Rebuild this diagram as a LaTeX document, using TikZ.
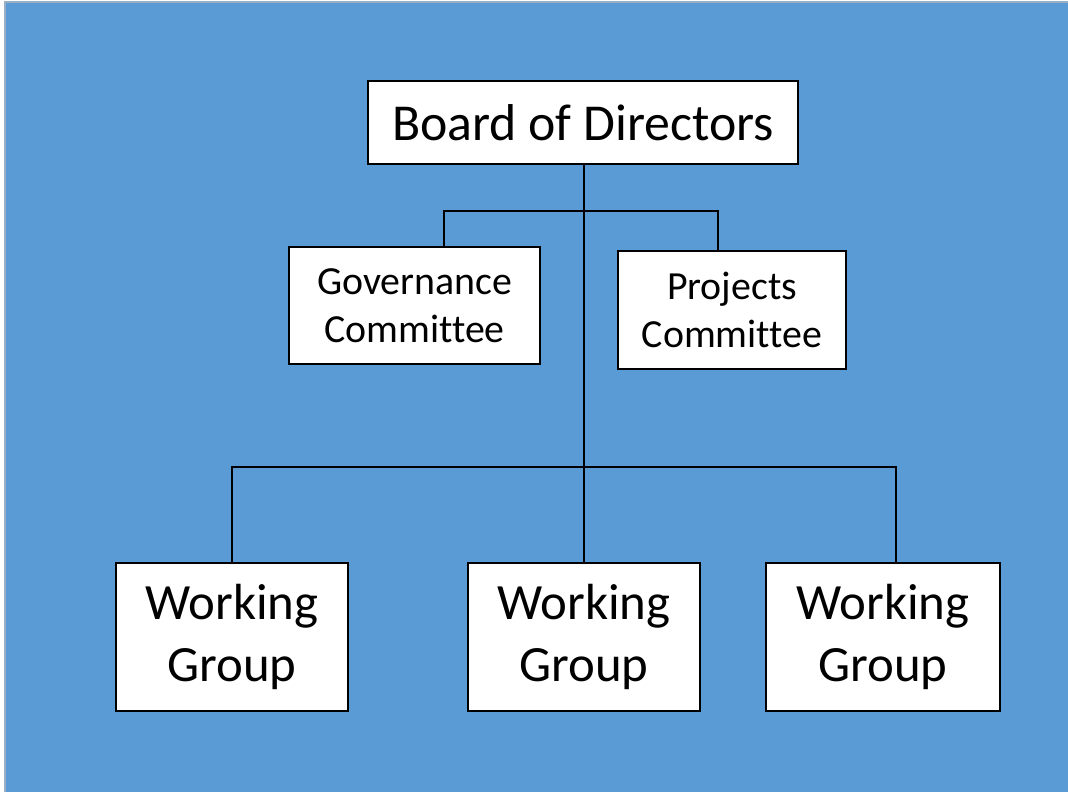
\documentclass[tikz,border=0pt]{standalone}
\usepackage{fontspec}
\setmainfont{Carlito}[RawFeature=-liga]
\definecolor{slideblue}{HTML}{5B9BD5}
\definecolor{frameedge}{HTML}{9AAFC4}
\begin{document}
\begin{tikzpicture}[x=1bp,y=-1bp,
  box/.style={draw=black,line width=1.6bp,fill=white,inner sep=0pt,align=center},
  link/.style={draw=black,line width=1.6bp},
  big/.style={font=\fontsize{51}{62}\selectfont},
  small/.style={font=\fontsize{40}{48}\selectfont}]
\useasboundingbox (0,0) rectangle (1068,792);
% slide background
\fill[white] (0,0) rectangle (1068,792);
\fill[slideblue] (5,2) rectangle (1068,792);
\draw[frameedge,line width=1.5bp] (5,792) -- (5,2) -- (1068,2);

% boxes
\node[box,font=\fontsize{52}{62}\selectfont,minimum width=430bp,minimum height=83bp] (board) at (583,122.5) {Board of Directors};
\node[box,small,minimum width=251bp,minimum height=117bp] (gov) at (414.5,305.5) {Governance\\Committee};
\node[box,small,minimum width=228bp,minimum height=118bp] (proj) at (732,310) {Projects\\Committee};
\node[box,big,minimum width=232bp,minimum height=148bp] (wg1) at (232,637) {Working\\Group};
\node[box,big,minimum width=232bp,minimum height=148bp] (wg2) at (584,637) {Working\\Group};
\node[box,big,minimum width=234bp,minimum height=148bp] (wg3) at (883,637) {Working\\Group};

% bus lines
\coordinate (bus1) at (584,211);
\coordinate (bus2) at (584,467);

\draw[link] ([xshift=1bp]board.south) -- (wg2.north);
\draw[link] ([xshift=29.5bp]gov.north) |- (bus1) -| ([xshift=-14bp]proj.north);
\draw[link] (wg1.north) |- (bus2) -| ([xshift=13bp]wg3.north);
\end{tikzpicture}
\end{document}
